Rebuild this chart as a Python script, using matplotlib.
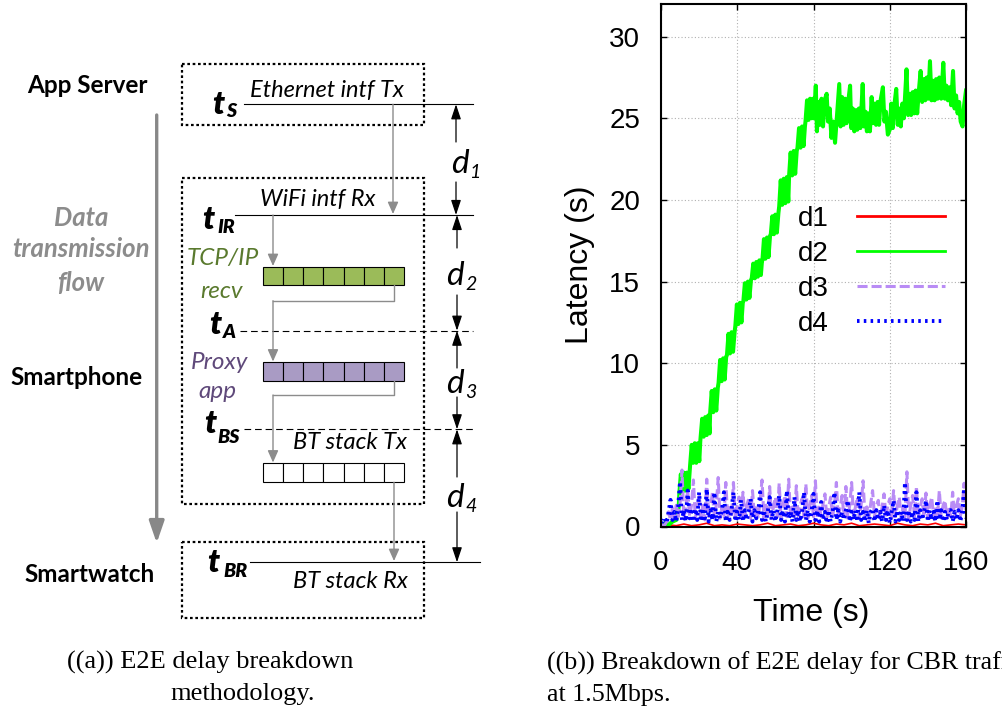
import matplotlib.pyplot as plt
from matplotlib.patches import Rectangle

plt.rcParams["font.family"] = ["Liberation Sans", "DejaVu Sans"]

# ---------------- right panel: latency breakdown ----------------
d1_time = list(range(0, 161, 4))
d1_latency = [0.05, 0.1, 0.05, 0.15, 0.05, 0.1, 0.2, 0.05, 0.1, 0.05,
              0.15, 0.1, 0.05, 0.1, 0.2, 0.05, 0.1, 0.15, 0.05, 0.1,
              0.2, 0.1, 0.05, 0.15, 0.1, 0.2, 0.05, 0.1, 0.15, 0.1,
              0.05, 0.2, 0.1, 0.05, 0.15, 0.1, 0.2, 0.05, 0.1, 0.15,
              0.1]

d2_time = [0.0, 2.0, 4.0, 6.0, 8.0, 9.3,
           9.6, 10.4, 11.2, 12.0, 12.8, 13.6, 14.4, 15.0,
           15.3, 16.1, 16.9, 17.7, 18.5, 19.3, 20.1, 20.6,
           20.8, 21.6, 22.4, 23.2, 24.0, 24.8, 25.5,
           25.8, 26.6, 27.4, 28.2, 29.0, 29.8,
           30.2, 31.0, 31.8, 32.6, 33.4, 34.2,
           34.6, 35.4, 36.2, 37.0, 37.8, 38.6,
           39.0, 39.8, 40.6, 41.4, 42.2, 42.9,
           43.2, 44.0, 44.8, 45.6, 46.4, 47.2,
           47.6, 48.4, 49.2, 50.0, 50.8, 51.6, 52.4, 53.0,
           53.2, 54.0, 54.8, 55.6, 56.4, 57.2,
           57.6, 58.4, 59.2, 60.0, 60.8, 61.6,
           62.0, 62.8, 63.6, 64.4, 65.2, 66.0, 66.8,
           67.2, 68.0, 68.8, 69.6, 70.4, 71.2,
           71.6, 72.4, 73.2, 74.0, 74.8, 75.5,
           75.8, 76.6, 77.4, 78.2, 79.0, 79.8,
           80.2, 81.2, 81.8, 82.6, 83.4, 84.2, 85.0, 85.8, 86.9, 87.6,
           88.5, 89.4, 90.3, 91.3, 92.2, 93.5, 94.2, 95.0, 95.8, 96.6,
           97.4, 98.2, 99.2, 99.8, 100.6, 101.4, 102.2, 103.0, 103.8, 104.6,
           105.8, 106.5, 107.3, 108.0, 108.8, 109.6, 110.5, 111.2, 112.0, 112.8,
           113.6, 114.4, 115.2, 116.4, 117.2, 118.0, 119.0, 120.0, 120.8, 121.6,
           122.4, 123.4, 124.2, 125.0, 125.8, 126.6, 127.4, 128.8, 129.6, 130.4,
           131.2, 132.0, 132.8, 133.6, 134.4, 135.2, 136.2, 137.0, 137.8, 138.6,
           139.4, 140.2, 141.1, 141.9, 142.7, 143.5, 144.3, 145.1, 146.0, 147.0,
           148.1, 148.9, 149.7, 150.5, 151.4, 152.2, 153.2, 154.0, 154.8, 155.6,
           156.4, 157.2, 158.2, 159.0, 160.0]
d2_latency = [0.1, 0.2, 0.1, 0.3, 0.4, 1.2,
              2.0, 3.2, 2.1, 3.3, 2.2, 3.3, 2.3, 3.3,
              3.8, 5.0, 3.9, 5.1, 3.9, 5.1, 4.0, 5.2,
              5.5, 6.6, 5.5, 6.7, 5.6, 6.8, 5.7,
              7.0, 8.3, 7.0, 8.4, 7.1, 8.5,
              8.8, 10.2, 8.9, 10.3, 9.0, 10.4,
              10.5, 11.8, 10.6, 11.9, 10.7, 11.9,
              12.3, 13.6, 12.4, 13.7, 12.5, 13.7,
              13.8, 14.9, 13.9, 15.0, 14.0, 15.1,
              15.2, 16.1, 15.2, 16.2, 15.3, 16.3, 15.4, 16.3,
              16.3, 17.6, 16.4, 17.7, 16.5, 17.8,
              17.9, 19.0, 17.9, 19.1, 18.0, 19.2,
              19.6, 21.2, 19.7, 21.3, 19.8, 21.4, 19.9,
              21.5, 22.9, 21.5, 23.0, 21.6, 23.0,
              23.2, 24.4, 23.2, 24.5, 23.3, 24.5,
              24.8, 26.1, 24.9, 26.2, 25.0, 26.2,
              25.0, 27.0, 24.2, 26.0, 24.6, 26.2, 24.5, 26.1, 26.5, 24.8,
              25.6, 23.8, 24.8, 23.5, 25.0, 27.1, 24.5, 26.3, 24.6, 26.2,
              24.7, 26.0, 27.0, 24.4, 25.6, 24.2, 25.5, 24.3, 25.6, 24.4,
              27.1, 24.5, 25.4, 24.2, 25.3, 24.2, 26.3, 24.7, 25.9, 24.6,
              26.0, 24.6, 26.1, 26.9, 24.8, 25.4, 24.0, 24.3, 25.9, 24.4,
              25.8, 26.8, 24.6, 25.6, 24.5, 25.9, 25.0, 28.0, 25.2, 26.5,
              25.2, 26.6, 25.3, 26.7, 25.3, 26.6, 27.9, 26.0, 27.4, 26.1,
              27.5, 26.2, 28.5, 26.1, 27.3, 26.1, 27.4, 26.2, 27.5, 26.2,
              28.4, 26.2, 27.0, 26.1, 26.9, 25.8, 27.9, 25.6, 26.4, 25.3,
              26.0, 24.8, 24.5, 25.8, 26.7]

seconds = list(range(0, 161))
d3_latency = [0.05, 0.1, 0.1, 0.3, 0.9, 0.4, 1.1, 0.5, 1.3, 0.6,
              1.4, 3.46, 0.5, 1.2, 2.2, 0.6, 1.3, 2.85, 0.5, 1.2,
              2.0, 0.6, 1.3, 0.4, 2.9, 0.6, 1.2, 2.1, 0.5, 1.3,
              3.0, 0.5, 1.2, 0.6, 2.7, 0.5, 1.3, 0.6, 2.7, 0.5,
              1.3, 1.8, 0.5, 2.1, 0.6, 1.3, 1.7, 0.5, 2.2, 0.6,
              1.3, 0.5, 1.6, 2.85, 0.5, 1.3, 0.6, 2.45, 0.5, 1.2,
              1.8, 0.6, 2.65, 0.5, 1.3, 1.9, 0.6, 2.9, 0.5, 1.2,
              0.6, 2.5, 0.5, 1.3, 1.7, 0.6, 2.6, 0.5, 1.2, 1.9,
              0.6, 2.8, 0.5, 1.3, 0.6, 1.4, 2.0, 0.5, 1.2, 1.8,
              0.6, 1.3, 2.7, 0.5, 1.2, 1.9, 0.6, 2.45, 0.5, 1.3,
              2.7, 0.6, 1.2, 1.8, 0.5, 1.3, 2.8, 0.6, 1.2, 0.5,
              1.4, 2.2, 0.6, 1.3, 1.6, 0.5, 1.2, 2.0, 0.6, 1.3,
              1.7, 0.5, 2.2, 0.6, 1.3, 1.8, 0.5, 1.2, 0.6, 3.35,
              0.5, 1.3, 1.9, 0.6, 2.45, 0.5, 1.2, 1.7, 0.6, 2.05,
              0.5, 1.3, 1.8, 0.6, 1.2, 0.5, 2.2, 0.6, 1.3, 1.6,
              0.5, 1.2, 0.6, 2.1, 0.5, 1.3, 1.7, 0.6, 1.2, 2.65,
              1.0]
d4_latency = [0.4, 0.3, 0.5, 0.2, 0.9, 1.63, 0.4, 0.9, 0.3, 1.2,
              2.75, 0.4, 1.0, 0.3, 2.2, 0.5, 0.9, 0.3, 1.1, 0.4,
              2.1, 0.3, 0.9, 0.5, 2.3, 0.3, 1.0, 0.4, 2.1, 0.3,
              0.9, 0.5, 1.0, 2.1, 0.3, 0.9, 0.4, 1.0, 2.1, 0.3,
              0.9, 0.4, 1.63, 0.3, 1.0, 0.4, 0.9, 1.7, 0.3, 1.0,
              0.5, 0.9, 2.1, 0.4, 1.0, 0.3, 0.9, 1.8, 0.4, 1.0,
              0.3, 0.9, 1.9, 0.4, 1.0, 0.3, 2.2, 0.5, 0.9, 0.3,
              1.8, 0.4, 1.0, 0.3, 0.9, 2.1, 0.4, 1.0, 0.3, 0.9,
              2.0, 0.4, 1.0, 0.3, 1.5, 0.4, 0.9, 0.2, 1.0, 0.3,
              0.9, 2.1, 0.4, 1.0, 0.3, 0.9, 0.4, 1.0, 1.6, 0.3,
              0.9, 0.4, 1.0, 0.3, 2.1, 0.4, 0.9, 0.3, 1.0, 0.2,
              0.9, 1.1, 0.3, 1.0, 0.4, 0.9, 0.3, 1.3, 0.4, 1.0,
              0.2, 0.9, 1.6, 0.3, 1.0, 0.4, 0.9, 0.3, 2.7, 0.4,
              1.0, 0.3, 0.9, 0.4, 2.1, 0.3, 1.0, 0.4, 0.9, 1.6,
              0.3, 1.0, 0.4, 0.9, 0.3, 1.6, 0.4, 1.0, 0.3, 0.9,
              0.4, 1.0, 1.0, 0.3, 0.9, 0.4, 1.0, 0.3, 0.9, 2.33,
              0.5]

x_ticks = [0, 40, 80, 120, 160]
y_ticks = [0, 5, 10, 15, 20, 25, 30]

# ---------------- left panel: diagram texts ----------------
tiers = ["App Server", "Smartphone", "Smartwatch"]
flow_words = ["Data", "transmission", "flow"]
stamps = [("t", "S"), ("t", "IR"), ("t", "A"), ("t", "BS"), ("t", "BR")]
delays = [("d", "1"), ("d", "2"), ("d", "3"), ("d", "4")]
intf_names = ["Ethernet intf Tx", "WiFi intf Rx", "BT stack Tx", "BT stack Rx"]
queue_cells = 7
cap_a = ["((a)) E2E delay breakdown", "methodology."]
cap_b = ["((b)) Breakdown of E2E delay for CBR traffic", "at 1.5Mbps."]

W, H = 1003, 710
fig = plt.figure(figsize=(W / 100, H / 100), dpi=100)
dg = fig.add_axes([0, 0, 1, 1])
dg.set_xlim(0, W)
dg.set_ylim(H, 0)
dg.axis("off")

SANS = "Lato"
SERIF = "Liberation Serif"
GRAY = "#8c8c8c"


def txt(x, y, s, size, color="black", weight="normal", style="normal", ha="left", family=SANS):
    dg.text(x, y, s, fontsize=size, color=color, fontweight=weight, fontstyle=style,
            family=family, ha=ha, va="baseline")


def arrow(x0, y0, x1, y1, color="black", lw=0.9, scale=10, hl=0.9, hw=0.3):
    dg.annotate("", xy=(x1, y1), xytext=(x0, y0),
                arrowprops=dict(arrowstyle=f"-|>,head_length={hl},head_width={hw}",
                                color=color, lw=lw, mutation_scale=scale,
                                shrinkA=0, shrinkB=0))


# tier names and flow arrow
for name, (x, y) in zip(tiers, [(87, 93), (77, 385), (90, 582)]):
    txt(x, y, name, 17.5, weight="bold", ha="center")
for word, y in zip(flow_words, [226, 257, 291]):
    txt(81, y, word, 18.5, color=GRAY, weight="bold", style="italic", ha="center")
arrow(156.7, 115, 156.7, 543, color="#888888", lw=2.4, scale=12, hl=1.1, hw=0.38)

# dotted boxes
for top, bottom in [(64, 125), (178, 504), (541.7, 618.3)]:
    dg.add_patch(Rectangle((182, top), 242, bottom - top, fill=False, ec="black",
                           lw=1.6, ls=(0, (1.2, 1.2))))

# time-stamp lines
dg.plot([244, 473], [104.3, 104.3], color="black", lw=0.8)
dg.plot([235, 473], [215, 215], color="black", lw=0.8)
dg.plot([240, 473], [330.7, 330.7], color="black", lw=0.8, ls=(0, (6, 3.5)))
dg.plot([244, 473], [429.3, 429.3], color="black", lw=0.8, ls=(0, (6, 3.5)))
dg.plot([250, 480], [562.3, 562.3], color="black", lw=0.8)

# time-stamp labels
stamp_pos = [(212, 114, 226, 117), (202, 229, 217, 233), (209, 334, 223, 338),
             (204, 433, 217, 443), (207, 572, 223, 577)]
for (main, sub), (x0, y0, x1, y1) in zip(stamps, stamp_pos):
    txt(x0, y0, main, 23, weight="heavy", style="italic")
    txt(x1, y1, sub, 14, weight="heavy", style="italic")

# interface names
for name, (x, y) in zip(intf_names, [(250, 97), (260, 206), (293, 449), (293, 588)]):
    txt(x, y, name, 17, style="italic")

# stack names
txt(223, 265, "TCP/IP", 17.5, color="#5a7a2e", style="italic", ha="center")
txt(222, 298, "recv", 17.5, color="#5a7a2e", style="italic", ha="center")
txt(220, 369, "Proxy", 17.5, color="#5f497a", style="italic", ha="center")
txt(217, 398, "app", 17.5, color="#5f497a", style="italic", ha="center")

# queues
cell_w = (404 - 263) / queue_cells
for top, bottom, fc in [(266.5, 285, "#9bbb59"), (361.7, 380.5, "#a99bc4"), (462.7, 482.3, "white")]:
    for i in range(queue_cells):
        dg.add_patch(Rectangle((263 + i * cell_w, top), cell_w, bottom - top,
                               fc=fc, ec="black", lw=0.8))

# data path (gray)
arrow(393, 104.3, 393, 214, color=GRAY, lw=1, scale=8, hl=0.9, hw=0.4)
arrow(273, 215, 273, 266, color=GRAY, lw=1, scale=8, hl=0.9, hw=0.4)
dg.plot([394, 394, 273], [285, 300.7, 300.7], color=GRAY, lw=1)
arrow(273, 300.7, 273, 361.5, color=GRAY, lw=1, scale=8, hl=0.9, hw=0.4)
dg.plot([394, 394, 273], [380.5, 395, 395], color=GRAY, lw=1)
arrow(273, 395, 273, 462.5, color=GRAY, lw=1, scale=8, hl=0.9, hw=0.4)
arrow(394, 482.3, 394, 561, color=GRAY, lw=1, scale=8, hl=0.9, hw=0.4)

# delay arrows
arrow(456, 142, 456, 104.3)
arrow(456, 182, 456, 215)
arrow(457, 248, 457, 215)
arrow(457, 295, 457, 330.7)
arrow(457, 368, 457, 330.7)
arrow(457, 397, 457, 429.3)
arrow(457, 477, 457, 429.3)
arrow(457, 512, 457, 562.3)

delay_pos = [(451, 173, 469, 178), (446, 285, 465, 290), (446, 393, 465, 398), (446, 507, 465, 512)]
for (main, sub), (x0, y0, x1, y1) in zip(delays, delay_pos):
    txt(x0, y0, main, 24, style="italic")
    txt(x1, y1, sub, 14, style="italic")

# captions
txt(67, 669, cap_a[0], 19, family=SERIF)
txt(170, 700, cap_a[1], 19, family=SERIF)
txt(547, 670, cap_b[0], 18.7, family=SERIF)
txt(547, 701, cap_b[1], 18.7, family=SERIF)

# ---------------- right panel plot ----------------
ax = fig.add_axes([661 / W, 1 - 526.5 / H, 305 / W, 522.5 / H])
ax.plot(d1_time, d1_latency, color="#ff0000", lw=1.2, label="d1")
ax.plot(d2_time, d2_latency, color="#00ff00", lw=2.9, label="d2")
ax.plot(seconds, d3_latency, color="#b98cf5", lw=2.2, ls=(0, (3.3, 1.3)), label="d3")
ax.plot(seconds, d4_latency, color="#0000ff", lw=2.8, ls=(0, (0.65, 1.1)), label="d4")

ax.set_xlim(0, 160)
ax.set_ylim(0, 32)
ax.set_xticks(x_ticks)
ax.set_yticks(y_ticks)
ax.set_axisbelow(True)
ax.grid(True, color="#b0b0b0", lw=0.8, ls=(0, (1, 2)))
ax.tick_params(direction="in", length=4, width=1, top=True, right=True, labelsize=20)
ax.tick_params(axis="x", pad=17)
ax.tick_params(axis="y", pad=15)
for sp in ax.spines.values():
    sp.set_linewidth(1.5)

ax.set_xlabel("Time (s)", fontsize=23, va="center")
ax.xaxis.set_label_coords(0.494, -0.1656)
ax.set_ylabel("Latency (s)", fontsize=23, va="center")
ax.yaxis.set_label_coords(-0.266, 0.5)

leg = ax.legend(loc="upper left", bbox_to_anchor=(0.449, 0.613), markerfirst=False, frameon=False,
                fontsize=20, handlelength=3.2, handletextpad=1.0, labelspacing=0.32,
                borderpad=0, borderaxespad=0)
leg.get_lines()[0].set_linewidth(2.0)
leg.get_lines()[1].set_linewidth(2.0)

fig.savefig("out.png", dpi=100)
